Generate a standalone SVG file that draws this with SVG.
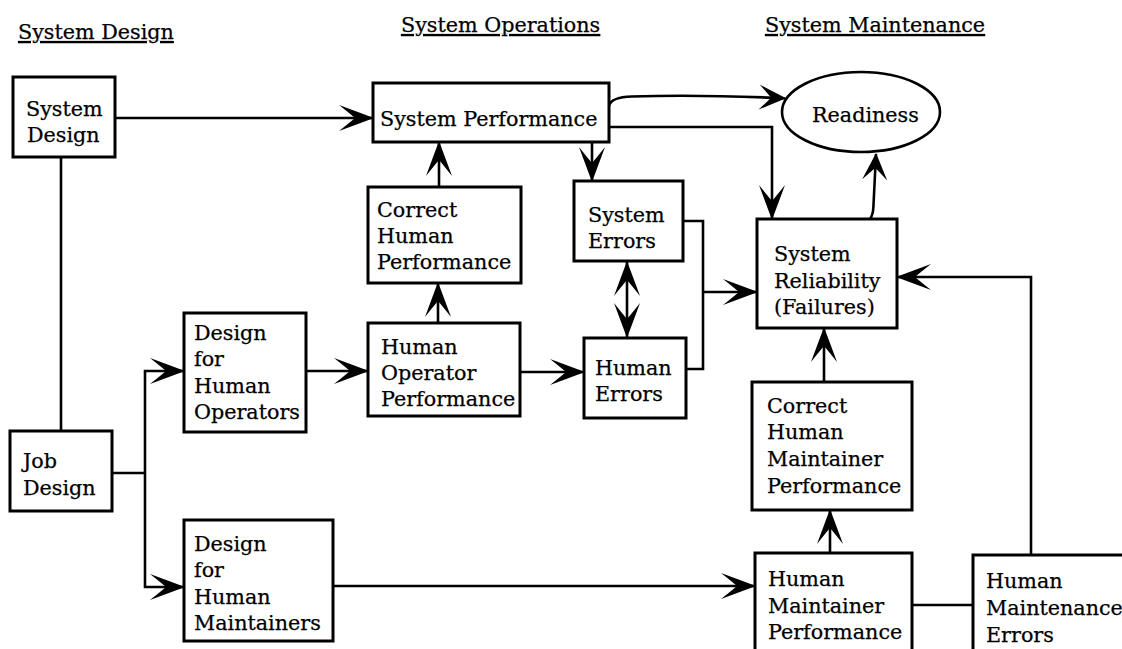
<svg xmlns="http://www.w3.org/2000/svg" width="1122" height="649" viewBox="0 0 1122 649">
<defs>
<style>
.box{fill:#fff;stroke:#000;stroke-width:3}
.ell{fill:#fff;stroke:#000;stroke-width:2.6}
.t{font-family:"DejaVu Serif","Liberation Serif",serif;font-size:20.7px;fill:#000;stroke:#000;stroke-width:0.25}
.h{font-family:"DejaVu Serif","Liberation Serif",serif;font-size:20.7px;fill:#000;stroke:#000;stroke-width:0.25;text-decoration:underline}
.c{fill:none;stroke:#000;stroke-width:2.6}
.a{marker-end:url(#arr)}
.as{marker-end:url(#arrs)}
</style>
<marker id="arr" markerUnits="userSpaceOnUse" viewBox="-36 -15 37 30" refX="0" refY="0" markerWidth="37" markerHeight="30" orient="auto-start-reverse">
<path d="M1,0 L-34,-13 Q-22,-3.5 -18,0 Q-22,3.5 -34,13 Z" fill="#000"/>
</marker>
<marker id="arrs" markerUnits="userSpaceOnUse" viewBox="-28 -14 29 28" refX="0" refY="0" markerWidth="29" markerHeight="28" orient="auto">
<path d="M1,0 L-26,-12.5 Q-17,-3.5 -14,0 Q-17,3.5 -26,12.5 Z" fill="#000"/>
</marker>
</defs>
<rect width="1122" height="649" fill="#fff"/>

<g id="headings">
<text class="h" x="18" y="39">System Design</text>
<text class="h" x="401" y="32">System Operations</text>
<text class="h" x="765" y="32">System Maintenance</text>
</g>

<g id="connectors">
<path class="c a" d="M115,118 H373"/>
<path class="c" d="M61,157 V431"/>
<path class="c" d="M112,473 H145"/>
<path class="c a" d="M145,473 V371 H184"/>
<path class="c a" d="M145,473 V587 H184"/>
<path class="c a" d="M306,371 H368"/>
<path class="c a" d="M438,323 V283"/>
<path class="c a" d="M439,187 V142"/>
<path class="c a" d="M520,372 H584"/>
<path class="c a" d="M592,142 V181"/>
<path class="c" d="M627,262 V337" marker-start="url(#arr)" marker-end="url(#arr)"/>
<path class="c" d="M683,221 H703 V369 H686"/>
<path class="c a" d="M703,292 H757"/>
<path class="c as" d="M609,106 Q611,97 632,96.5 C690,94.5 735,96 785,98.3"/>
<path class="c a" d="M609,127 H772 V219"/>
<path class="c as" d="M870,219 Q873,215 873.4,207 L876,154"/>
<path class="c a" d="M333,586 H755"/>
<path class="c a" d="M830,553 V510"/>
<path class="c a" d="M824,382 V328"/>
<path class="c" d="M912,605 H973"/>
<path class="c a" d="M1031,555 V277 H897"/>
</g>

<g id="sysdesign">
<rect class="box" x="13" y="77" width="102" height="80"/>
<text class="t" x="26" y="116">System</text>
<text class="t" x="27" y="142">Design</text>
</g>
<g id="sysperf">
<rect class="box" x="373" y="83" width="236" height="59"/>
<text class="t" x="380" y="126">System Performance</text>
</g>
<g id="readiness">
<ellipse class="ell" cx="861" cy="112" rx="79" ry="40"/>
<text class="t" x="812" y="122">Readiness</text>
</g>
<g id="chp">
<rect class="box" x="368" y="187" width="153" height="96"/>
<text class="t" x="377" y="217">Correct</text>
<text class="t" x="377" y="243">Human</text>
<text class="t" x="377" y="269">Performance</text>
</g>
<g id="syserr">
<rect class="box" x="574" y="181" width="109" height="80"/>
<text class="t" x="588" y="222">System</text>
<text class="t" x="588" y="248">Errors</text>
</g>
<g id="sysrel">
<rect class="box" x="757" y="219" width="140" height="109"/>
<text class="t" x="774" y="261">System</text>
<text class="t" x="774" y="288">Reliability</text>
<text class="t" x="774" y="314">(Failures)</text>
</g>
<g id="dfho">
<rect class="box" x="184" y="313" width="122" height="119"/>
<text class="t" x="194" y="340">Design</text>
<text class="t" x="194" y="366">for</text>
<text class="t" x="194" y="393">Human</text>
<text class="t" x="194" y="419">Operators</text>
</g>
<g id="hop">
<rect class="box" x="368" y="323" width="152" height="93"/>
<text class="t" x="381" y="354">Human</text>
<text class="t" x="381" y="380">Operator</text>
<text class="t" x="381" y="406">Performance</text>
</g>
<g id="humerr">
<rect class="box" x="584" y="338" width="102" height="80"/>
<text class="t" x="595" y="375">Human</text>
<text class="t" x="595" y="401">Errors</text>
</g>
<g id="jobdesign">
<rect class="box" x="10" y="431" width="102" height="80"/>
<text class="t" x="23" y="468">Job</text>
<text class="t" x="23" y="495">Design</text>
</g>
<g id="dfhm">
<rect class="box" x="184" y="520" width="149" height="121"/>
<text class="t" x="194" y="551">Design</text>
<text class="t" x="194" y="577">for</text>
<text class="t" x="194" y="604">Human</text>
<text class="t" x="194" y="630">Maintainers</text>
</g>
<g id="chmp">
<rect class="box" x="752" y="382" width="160" height="128"/>
<text class="t" x="767" y="413">Correct</text>
<text class="t" x="767" y="439">Human</text>
<text class="t" x="767" y="466">Maintainer</text>
<text class="t" x="767" y="493">Performance</text>
</g>
<g id="hmp">
<rect class="box" x="755" y="553" width="157" height="110"/>
<text class="t" x="768" y="586">Human</text>
<text class="t" x="768" y="613">Maintainer</text>
<text class="t" x="768" y="639">Performance</text>
</g>
<g id="hme">
<rect class="box" x="973" y="555" width="170" height="110"/>
<text class="t" x="986" y="588">Human</text>
<text class="t" x="986" y="615">Maintenance</text>
<text class="t" x="986" y="642">Errors</text>
</g>
</svg>
